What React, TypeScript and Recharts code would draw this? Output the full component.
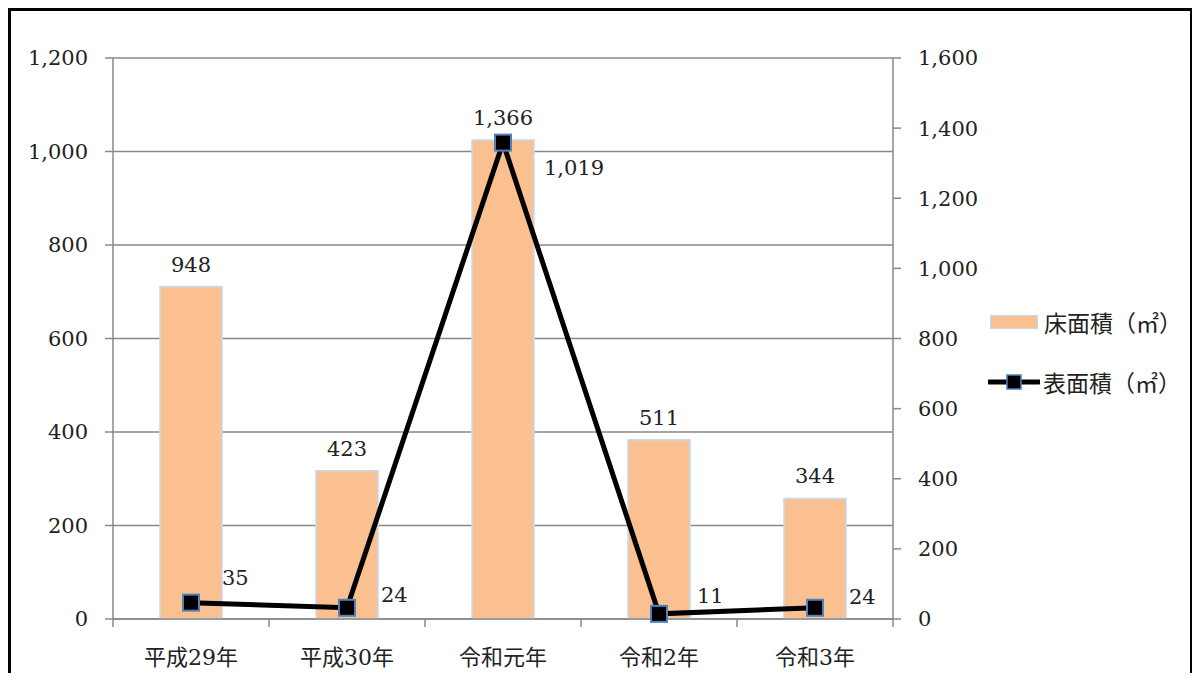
import React from "react";
import {
  ComposedChart,
  Bar,
  Line,
  XAxis,
  YAxis,
  CartesianGrid,
  Legend,
  LabelList,
} from "recharts";

const categories = ["平成29年", "平成30年", "令和元年", "令和2年", "令和3年"];
const floorArea = [948, 423, 1366, 511, 344]; // 床面積（㎡） - right axis
const surfaceArea = [35, 24, 1019, 11, 24]; // 表面積（㎡） - left axis
const leftTicks = [0, 200, 400, 600, 800, 1000, 1200];
const rightTicks = [0, 200, 400, 600, 800, 1000, 1200, 1400, 1600];

const data = categories.map((name, i) => ({
  name,
  floor: floorArea[i],
  surface: surfaceArea[i],
}));

// label tweaks (Excel put these by hand)
const LINE_LABEL_DX = [31, 34, 41, 38, 34];
const LINE_LABEL_DY = [-25, -13, 25, -18, -11];

const NUM_FONT = "'DejaVu Serif', 'Noto Sans CJK JP', serif";
const CJK_FONT = "'Noto Sans CJK JP', sans-serif";
const GRID = "#888888";
const BAR_FILL = "#FAC090";
const BAR_STROKE = "#C6D9F1";
const MARKER_STROKE = "#4F81BD";
const BAND_HALF = 78;

const fmt = (v: number) => Number(v).toLocaleString("en-US");

const XTick = (props: any) => {
  const { x, y, payload, index } = props;
  const isLast = index === categories.length - 1;
  return (
    <g>
      <line x1={x - BAND_HALF} x2={x - BAND_HALF} y1={y - 8} y2={y} stroke={GRID} strokeWidth={1.5} />
      {isLast && (
        <line x1={x + BAND_HALF} x2={x + BAND_HALF} y1={y - 8} y2={y} stroke={GRID} strokeWidth={1.5} />
      )}
      <text
        x={x}
        y={y + 30}
        textAnchor="middle"
        dominantBaseline="central"
        fontFamily={NUM_FONT}
        fontSize={22}
        fill="#222"
      >
        {payload.value}
      </text>
    </g>
  );
};

const SquareDot = (props: any) => {
  const { cx, cy, index } = props;
  if (cx == null || cy == null) return null;
  return (
    <rect
      key={`dot-${index}`}
      x={cx - 8}
      y={cy - 8}
      width={16}
      height={16}
      fill="#000"
      stroke={MARKER_STROKE}
      strokeWidth={2}
    />
  );
};

const LineLabel = (props: any) => {
  const { x, y, value, index } = props;
  return (
    <text
      x={x + (LINE_LABEL_DX[index] ?? 35)}
      y={y + (LINE_LABEL_DY[index] ?? -15)}
      dy="0.35em"
      textAnchor="start"
      fontFamily={NUM_FONT}
      fontSize={21}
      fill="#222"
    >
      {fmt(value)}
    </text>
  );
};

const LegendContent = () => (
  <div style={{ fontFamily: CJK_FONT, fontSize: 23, color: "#222" }}>
    <div style={{ display: "flex", alignItems: "center", height: 30, marginBottom: 30 }}>
      <div
        style={{
          width: 46,
          height: 12,
          marginLeft: 2,
          marginRight: 6,
          background: BAR_FILL,
          border: `1.5px solid ${BAR_STROKE}`,
        }}
      />
      <span>床面積（㎡）</span>
    </div>
    <div style={{ display: "flex", alignItems: "center", height: 30 }}>
      <svg width={52} height={20} style={{ marginRight: 3 }}>
        <line x1={1} x2={51} y1={10} y2={10} stroke="#000" strokeWidth={5} strokeLinecap="round" />
        <rect x={19} y={3} width={14} height={14} fill="#000" stroke={MARKER_STROKE} strokeWidth={1.5} />
      </svg>
      <span>表面積（㎡）</span>
    </div>
  </div>
);

export default function App() {
  return (
    <div style={{ height: 673, marginBottom: -8, overflow: "hidden" }}>
      <div
        style={{
          width: 1179,
          height: 700,
          border: "3px solid #000",
          background: "#fff",
          position: "relative",
        }}
      >
        <ComposedChart
          width={1179}
          height={700}
          data={data}
          margin={{ top: 47, right: 0, left: 0, bottom: 0 }}
        >
          <CartesianGrid
            yAxisId="left"
            vertical={false}
            stroke={GRID}
            strokeWidth={1.5}
          />
          <XAxis
            dataKey="name"
            height={92}
            tickLine={false}
            tickSize={8}
            tickMargin={0}
            tick={<XTick />}
            interval={0}
            axisLine={{ stroke: GRID, strokeWidth: 1.5 }}
          />
          <YAxis
            yAxisId="left"
            width={102}
            domain={[0, 1200]}
            ticks={leftTicks}
            tickFormatter={fmt}
            tickSize={8}
            tickMargin={17}
            tickLine={{ stroke: GRID, strokeWidth: 1.5 }}
            axisLine={{ stroke: GRID, strokeWidth: 1.5 }}
            tick={{ fill: "#222", fontSize: 21, fontFamily: NUM_FONT }}
            interval={0}
          />
          <YAxis
            yAxisId="right"
            orientation="right"
            width={297}
            domain={[0, 1600]}
            ticks={rightTicks}
            tickFormatter={fmt}
            tickSize={8}
            tickMargin={17}
            tickLine={{ stroke: GRID, strokeWidth: 1.5 }}
            axisLine={{ stroke: GRID, strokeWidth: 1.5 }}
            tick={{ fill: "#222", fontSize: 21, fontFamily: NUM_FONT }}
            interval={0}
          />
          <Legend
            layout="vertical"
            align="center"
            verticalAlign="middle"
            content={<LegendContent />}
            wrapperStyle={{ left: 977, top: 296, width: 200 }}
          />
          <Bar
            yAxisId="right"
            dataKey="floor"
            barSize={62}
            fill={BAR_FILL}
            stroke={BAR_STROKE}
            strokeWidth={1.5}
            isAnimationActive={false}
          >
            <LabelList
              dataKey="floor"
              position="top"
              offset={15}
              formatter={(v: any) => fmt(v)}
              fill="#222"
              fontSize={21}
              fontFamily={NUM_FONT}
            />
          </Bar>
          <Line
            yAxisId="left"
            dataKey="surface"
            stroke="#000"
            strokeWidth={5}
            dot={<SquareDot />}
            activeDot={false}
            isAnimationActive={false}
          >
            <LabelList dataKey="surface" content={<LineLabel />} />
          </Line>
        </ComposedChart>
      </div>
    </div>
  );
}
